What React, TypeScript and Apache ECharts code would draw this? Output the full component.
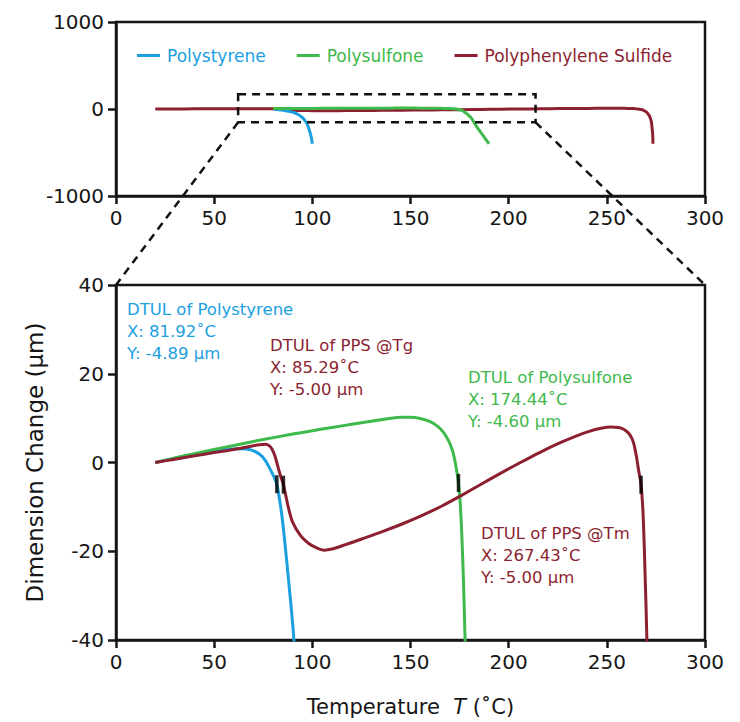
import React, { useEffect, useRef } from "react";
import * as echarts from "echarts";

const seriesNames = ["Polystyrene", "Polysulfone", "Polyphenylene Sulfide"];
const seriesColors = ["#1aa0df", "#3eb94b", "#8c1f30"];

// [temperature °C, dimension change µm]
const polystyrene: [number, number][] = [
  [20, 0], [30, 0.95], [40, 1.85], [50, 2.6], [58, 3.05], [64, 3.1], [69, 2.8], [73, 1.9],
  [76, 0.5], [78.5, -1.5], [80.5, -3.3], [81.92, -4.89], [83, -7.5], [84.5, -12], [86, -18],
  [88, -27], [90.6, -40], [92.5, -60], [94.5, -90], [96, -126], [97.5, -180], [98.7, -260],
  [99.5, -330], [100, -400],
];
const polysulfone: [number, number][] = [
  [20, 0], [30, 1.0], [40, 2.0], [50, 2.95], [60, 3.85], [70, 4.75], [80, 5.6], [90, 6.4],
  [100, 7.15], [110, 7.9], [120, 8.6], [130, 9.3], [140, 9.95], [145, 10.2], [150, 10.2],
  [155, 9.9], [160, 9.2], [164, 8.1], [167, 6.7], [169.5, 4.8], [171.5, 2.5], [173, -0.5],
  [174.44, -4.6], [175.3, -9], [176.2, -17], [177, -27], [177.8, -40], [179, -60], [181, -105],
  [183.6, -200], [186.8, -300], [190, -400],
];
const pps: [number, number][] = [
  [20, 0], [30, 0.75], [40, 1.5], [50, 2.25], [60, 2.95], [68, 3.6], [73, 4.0], [76, 4.1],
  [78, 3.8], [79.5, 3.0], [81, 1.4], [82.5, -1.0], [84, -3.3], [85.29, -5.0], [86.5, -7.5],
  [88, -10.5], [90, -13.5], [94, -16.5], [98, -18.2], [102, -19.2], [106, -19.75], [110, -19.5],
  [117, -18.5], [126, -17.1], [136, -15.5], [146, -13.8], [156, -11.9], [166, -9.8],
  [176, -7.4], [186, -4.9], [196, -2.4], [206, 0.0], [216, 2.3], [226, 4.4], [234, 5.9],
  [241, 7.0], [247, 7.7], [252, 8.0], [256, 7.9], [259, 7.4], [261.5, 6.4], [263.5, 4.6],
  [265, 1.5], [266.2, -1.8], [267.43, -5.0], [268.5, -12], [269.4, -24], [270.4, -40],
  [271.3, -65], [272.1, -100], [272.7, -150], [273.1, -230], [273.4, -310], [273.5, -400],
];

// the overview plot shows polystyrene / polysulfone from this temperature on
const overviewStartT = 80;

// DTUL points
const dtulTemps = [81.92, 85.29, 174.44, 267.43];
const dtulValues = [-4.89, -5.0, -4.6, -5.0];

const annotationTexts = [
  "DTUL of Polystyrene\nX: 81.92˚C\nY: -4.89 µm",
  "DTUL of PPS @Tg\nX: 85.29˚C\nY: -5.00 µm",
  "DTUL of Polysulfone\nX: 174.44˚C\nY: -4.60 µm",
  "DTUL of PPS @Tm\nX: 267.43˚C\nY: -5.00 µm",
];
const annotationColors = [seriesColors[0], seriesColors[2], seriesColors[1], seriesColors[2]];

// zoom box drawn on the overview (data units of the overview)
const zoomBoxT = [62.2, 213.7];
const zoomBoxY = [-153, 169];

const FONT = "'DejaVu Sans', sans-serif";
const INK = "#161616";

export default function App() {
  const ref = useRef<HTMLDivElement>(null);
  useEffect(() => {
    const chart = echarts.init(ref.current!, null, { renderer: "svg" });
    const axisLine = { show: true, onZero: false, lineStyle: { color: INK, width: 2.5 } };
    const axisTick = { show: true, inside: false, length: 8, lineStyle: { color: INK, width: 2.5 } };
    const axisLabel = {
      color: INK, fontSize: 20, fontFamily: FONT, margin: 12,
      formatter: (v: number) => String(v),
    };
    const lineBase = (name: string, i: number, xi: number, data: [number, number][]) => ({
      type: "line",
      name,
      xAxisIndex: xi,
      yAxisIndex: xi,
      data,
      showSymbol: false,
      symbol: "none",
      smooth: 0.3,
      clip: true,
      lineStyle: { color: seriesColors[i], width: 3 },
      itemStyle: { color: seriesColors[i] },
    });
    chart.setOption({
      animation: false,
      grid: [
        { left: 116, right: 35, top: 22, height: 174, show: true, borderColor: INK, borderWidth: 2.5, backgroundColor: "transparent" },
        { left: 116, right: 35, top: 285, height: 355, show: true, borderColor: INK, borderWidth: 2.5, backgroundColor: "transparent" },
      ],
      legend: {
        left: 137,
        top: 47,
        padding: 0,
        icon: "rect",
        itemWidth: 23,
        itemHeight: 3,
        itemGap: 31,
        selectedMode: false,
        textStyle: { fontSize: 17, fontFamily: FONT, padding: [0, 0, 0, 2] },
        data: seriesNames.map((n, i) => ({ name: n, textStyle: { color: seriesColors[i] } })),
      },
      xAxis: [
        { gridIndex: 0, type: "value", min: 0, max: 300, interval: 50, axisLine, axisTick, axisLabel, splitLine: { show: false } },
        {
          gridIndex: 1, type: "value", min: 0, max: 300, interval: 50, axisLine, axisTick, axisLabel, splitLine: { show: false },
          name: "{n|Temperature  }{i|T}{n| (˚C)}",
          nameLocation: "middle",
          nameGap: 56,
          nameTextStyle: {
            color: INK, fontSize: 21, fontFamily: FONT,
            rich: {
              n: { color: INK, fontSize: 21, fontFamily: FONT },
              i: { color: INK, fontSize: 21, fontFamily: FONT, fontStyle: "italic" },
            },
          },
        },
      ],
      yAxis: [
        { gridIndex: 0, type: "value", min: -1000, max: 1000, interval: 1000, axisLine, axisTick, axisLabel, splitLine: { show: false } },
        {
          gridIndex: 1, type: "value", min: -40, max: 40, interval: 20, axisLine, axisTick, axisLabel, splitLine: { show: false },
          name: "Dimension Change (µm)",
          nameLocation: "middle",
          nameGap: 70,
          nameTextStyle: { color: INK, fontSize: 23, fontFamily: FONT },
        },
      ],
      series: [
        lineBase(seriesNames[2], 2, 0, pps),
        lineBase(seriesNames[0], 0, 0, polystyrene.filter(([t]) => t >= overviewStartT)),
        lineBase(seriesNames[1], 1, 0, polysulfone.filter(([t]) => t >= overviewStartT)),
        lineBase(seriesNames[0], 0, 1, polystyrene),
        lineBase(seriesNames[1], 1, 1, polysulfone),
        lineBase(seriesNames[2], 2, 1, pps),
        {
          type: "scatter",
          name: "DTUL",
          xAxisIndex: 1,
          yAxisIndex: 1,
          symbol: "rect",
          symbolSize: [3.5, 18],
          itemStyle: { color: "#000" },
          z: 5,
          data: dtulTemps.map((t, i) => [t, dtulValues[i]]),
        },
      ],
    });

    const bl = chart.convertToPixel({ gridIndex: 0 }, [zoomBoxT[0], zoomBoxY[0]]) as number[];
    const tr = chart.convertToPixel({ gridIndex: 0 }, [zoomBoxT[1], zoomBoxY[1]]) as number[];
    const g0 = chart.convertToPixel({ gridIndex: 1 }, [0, 40]) as number[];
    const g1 = chart.convertToPixel({ gridIndex: 1 }, [300, 40]) as number[];
    const dash = { stroke: "#111", lineWidth: 2.5, lineDash: [8, 6], fill: "none" };
    const annPos = [
      [127, 298],
      [270, 334],
      [468, 366],
      [481, 522],
    ];
    chart.setOption({
      graphic: [
        { type: "rect", shape: { x: bl[0], y: tr[1], width: tr[0] - bl[0], height: bl[1] - tr[1] }, style: dash, z: 10 },
        { type: "line", shape: { x1: bl[0], y1: bl[1], x2: g0[0], y2: g0[1] }, style: dash, z: 10 },
        { type: "line", shape: { x1: tr[0], y1: bl[1], x2: g1[0], y2: g1[1] }, style: dash, z: 10 },
        ...annotationTexts.map((t, i) => ({
          type: "text",
          x: annPos[i][0],
          y: annPos[i][1],
          z: 10,
          style: {
            text: t,
            fill: annotationColors[i],
            fontSize: 16.5,
            fontFamily: FONT,
            lineHeight: 22,
            verticalAlign: "top",
            align: "left",
          },
        })),
      ],
    });
    return () => chart.dispose();
  }, []);
  return <div ref={ref} style={{ position: "absolute", left: 0, top: 0, width: 740, height: 722 }} />;
}
